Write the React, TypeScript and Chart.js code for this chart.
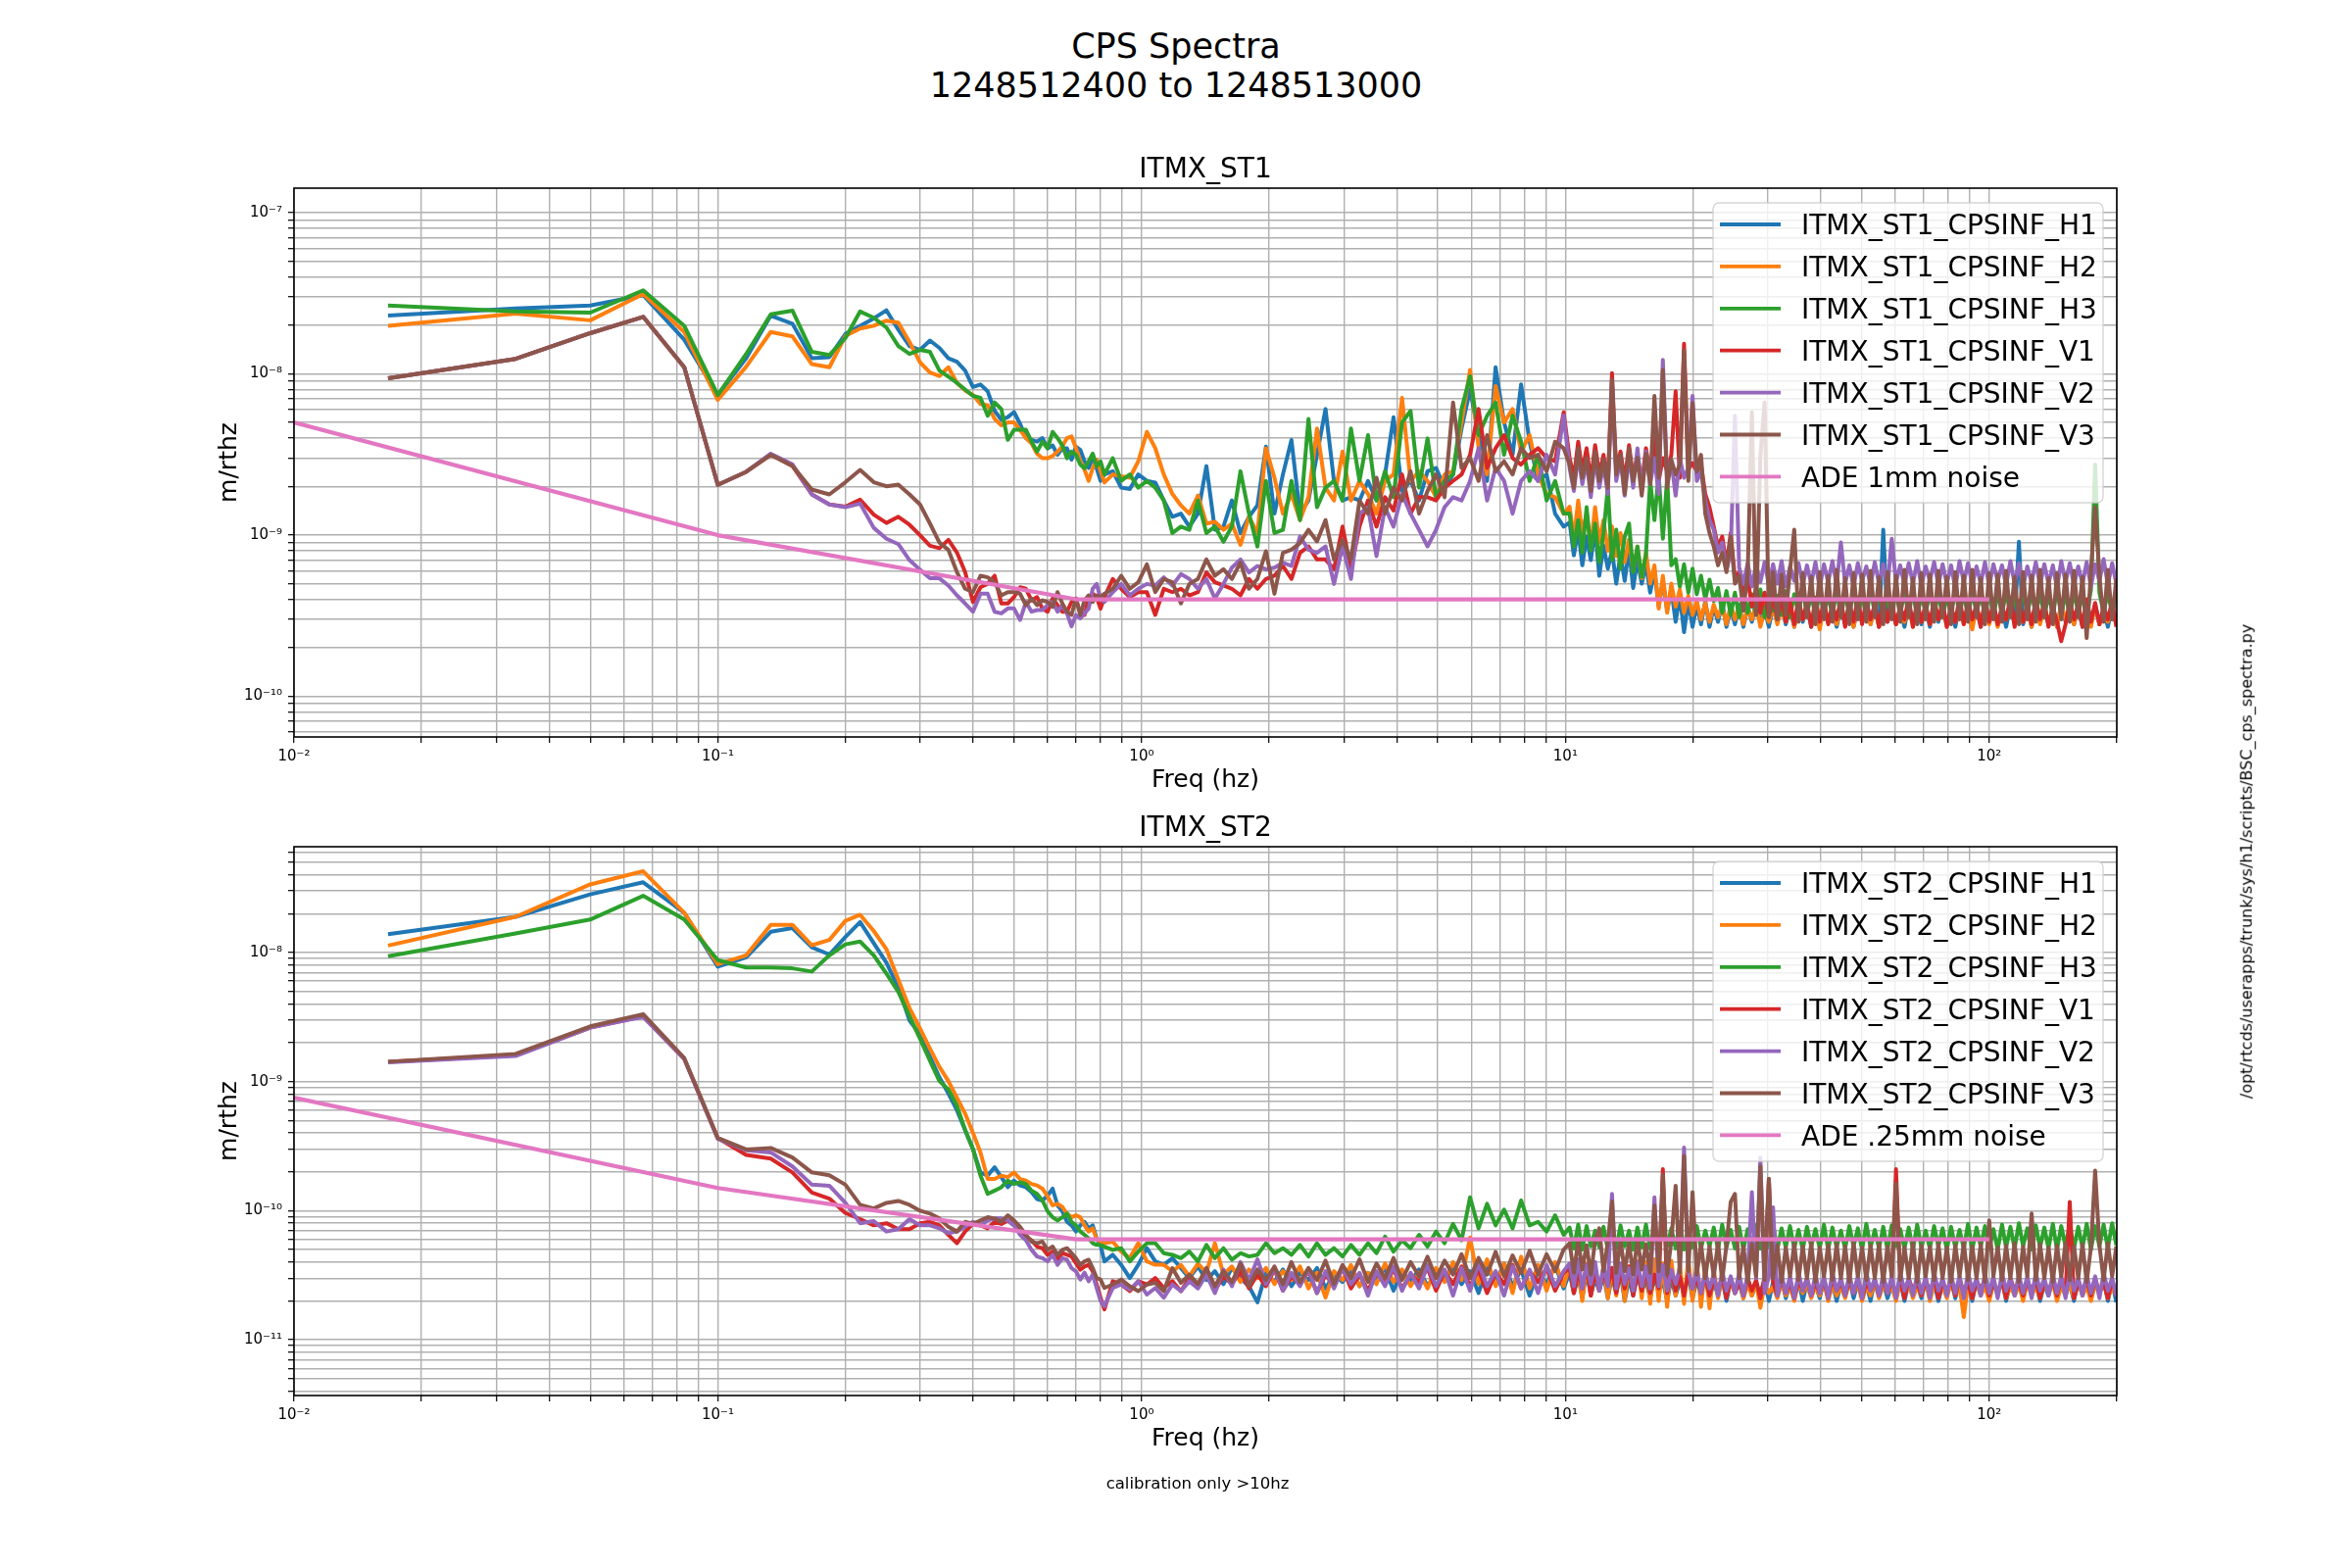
import React, { useEffect, useRef } from 'react';
import { Chart, registerables } from 'chart.js';
Chart.register(...registerables);

const FONT = "'DejaVu Sans', sans-serif";

// ---------- frequency grid (Hz) ----------
const FREQ_BINS = [
  0.01667, 0.03333, 0.05, 0.06667, 0.08333, 0.1, 0.11667, 0.13333, 0.15, 0.16667,
  0.18333, 0.2, 0.21667, 0.23333, 0.25, 0.26667, 0.28333, 0.3, 0.31667, 0.33333,
  0.35, 0.36667, 0.38333, 0.4, 0.41667, 0.43333, 0.45, 0.46667, 0.48333, 0.5,
  0.51667, 0.53333, 0.55, 0.56667, 0.58333, 0.6, 0.61667, 0.63333, 0.65, 0.66667,
  0.68333, 0.7, 0.71667, 0.73333, 0.75, 0.76667, 0.78333, 0.8,
];
const FREQ_MID = [
  0.817, 0.855, 0.895, 0.938, 0.982, 1.029, 1.077, 1.128, 1.182, 1.238,
  1.296, 1.358, 1.422, 1.489, 1.56, 1.633, 1.711, 1.792, 1.876, 1.965,
  2.058, 2.155, 2.257, 2.364, 2.476, 2.593, 2.716, 2.844, 2.979, 3.119,
  3.267, 3.421, 3.583, 3.753, 3.93, 4.116, 4.311, 4.515, 4.728, 4.952,
  5.186, 5.431, 5.688, 5.957, 6.239, 6.534, 6.843, 7.166, 7.505, 7.86,
  8.232, 8.621, 9.029, 9.456, 9.903,
];
const FREQ_DENSE = [
  10.23, 10.47, 10.72, 10.96, 11.22, 11.48, 11.75, 12.02, 12.3, 12.59,
  12.88, 13.18, 13.49, 13.8, 14.13, 14.45, 14.79, 15.14, 15.49, 15.85,
  16.22, 16.6, 16.98, 17.38, 17.78, 18.2, 18.62, 19.05, 19.5, 19.95,
  20.42, 20.89, 21.38, 21.88, 22.39, 22.91, 23.44, 23.99, 24.55, 25.12,
  25.7, 26.3, 26.92, 27.54, 28.18, 28.84, 29.51, 30.2, 30.9, 31.62,
  32.36, 33.11, 33.88, 34.67, 35.48, 36.31, 37.15, 38.02, 38.9, 39.81,
  40.74, 41.69, 42.66, 43.65, 44.67, 45.71, 46.77, 47.86, 48.98, 50.12,
  51.29, 52.48, 53.7, 54.95, 56.23, 57.54, 58.88, 60.26, 61.66, 63.1,
  64.57, 66.07, 67.61, 69.18, 70.79, 72.44, 74.13, 75.86, 77.62, 79.43,
  81.28, 83.18, 85.11, 87.1, 89.13, 91.2, 93.33, 95.5, 97.72, 100.0,
  102.3, 104.7, 107.2, 109.6, 112.2, 114.8, 117.5, 120.2, 123.0, 125.9,
  128.8, 131.8, 134.9, 138.0, 141.3, 144.5, 147.9, 151.4, 154.9, 158.5,
  162.2, 166.0, 169.8, 173.8, 177.8, 182.0, 186.2, 190.5, 195.0, 199.5,
];
const FREQ = [...FREQ_BINS, ...FREQ_MID, ...FREQ_DENSE];

// ---------- ITMX_ST1 (values in units of 1e-10 m/rthz) ----------
const ST1_UNIT = 1e-10;
const ST1_H1 = [
  230, 255, 266, 308, 163, 74, 125, 230, 205, 125, 127, 177, 199, 221, 248, 188, 149, 141, 161, 145, 125, 119, 105, 83,
  86, 78, 59, 52, 54, 58, 49, 40, 39, 38, 40, 34.6, 36, 31.5, 34.6, 34.6, 29.4, 35.4, 33.8, 28.7, 26.1, 30, 26, 21.7,
  23.8, 24.9, 19.7, 19.3, 23.8, 21.7, 21.2, 16.4, 13.0, 13.6, 11.3, 13.6, 26.8, 10.8, 11.3, 16.4, 10.3, 13.0, 15.3, 35.4,
  13.6, 23.8, 38.9, 13.6, 16.4, 31.5, 60.6, 21.7, 16.4, 17.2, 16.4, 21.7, 16.4, 23.8, 53.9, 18.8, 21.7, 16.4, 24.9, 26.1,
  19.7, 23.8, 45.8, 80, 41.7, 21.7, 110, 50, 31.5, 86, 38, 21.7, 23.8, 13.6, 11.3,
  12.0, 7.5, 10.8, 6.5, 9.8, 7.0, 11.0, 5.6, 8.6, 6.2,
  8.0, 5.0, 7.6, 5.2, 8.2, 4.7, 7.0, 5.0, 6.6, 4.4,
  6.0, 3.6, 5.2, 3.4, 4.6, 2.9, 4.2, 2.5, 3.9, 2.7,
  3.7, 2.8, 3.9, 2.7, 3.6, 2.9, 3.8, 2.7, 3.5, 2.8,
  3.7, 2.7, 3.6, 2.9, 3.8, 2.8, 3.5, 2.7, 3.6, 2.9,
  3.7, 2.8, 3.5, 2.7, 3.8, 2.9, 3.6, 2.7, 3.5, 2.8,
  3.7, 2.9, 3.6, 2.7, 3.5, 2.8, 3.8, 2.7, 3.6, 2.9,
  3.5, 2.8, 3.7, 2.7, 10.8, 2.9, 3.6, 2.8, 3.5, 2.7,
  3.7, 2.9, 3.6, 2.8, 3.5, 2.7, 3.8, 2.9, 3.6, 2.8,
  3.5, 2.7, 3.7, 2.9, 3.6, 2.8, 3.5, 2.7, 3.8, 2.9,
  3.6, 2.8, 3.5, 2.7, 3.7, 2.9, 9.1, 2.8, 3.5, 2.7,
  3.8, 2.9, 3.6, 2.8, 3.5, 2.7, 3.7, 2.9, 3.6, 2.8,
  3.5, 2.7, 3.8, 2.9, 3.6, 2.8, 3.5, 2.7, 3.6, 2.8,
];
const ST1_H2 = [
  199, 237, 215, 313, 182, 69, 111, 182, 171, 115, 110, 172, 191, 199, 214, 208, 158, 118, 102, 97, 110, 88, 79, 74,
  65, 64, 52.6, 48, 50, 50, 45, 40, 37, 32, 30, 30, 31, 33, 35.5, 40, 41, 34.6, 28.7, 25.5, 21.7, 26, 29.4, 24.9,
  21.2, 23.8, 23.2, 22.7, 28.7, 43.7, 34.6, 23.8, 18, 15.3, 13.6, 17.6, 11.8, 12.1, 10.8, 11.8, 8.7, 13, 10.3, 34.6,
  22.7, 13.6, 18, 12.4, 17.2, 45.8, 19.7, 16.4, 33, 16.4, 21.7, 18, 13.6, 21.7, 23.8, 71, 21.7, 24.9, 21.7, 17.2,
  23.8, 24.9, 50, 106, 34.6, 23.8, 84, 50, 60.6, 33, 41.7, 23.8, 18, 17.2, 13.6,
  15.0, 9.5, 16.4, 10.3, 13.6, 8.5, 14.9, 9.0, 12.4, 8.0,
  11.3, 7.4, 10.3, 6.8, 9.4, 6.0, 8.5, 5.4, 7.8, 5.0,
  6.5, 3.5, 5.6, 3.3, 5.0, 3.6, 4.6, 3.3, 4.2, 3.2,
  3.9, 3.0, 3.8, 2.9, 3.7, 3.1, 3.6, 2.8, 3.7, 3.0,
  3.6, 2.8, 3.5, 3.0, 3.7, 2.7, 3.4, 2.9, 3.6, 2.8,
  3.5, 2.9, 3.7, 2.7, 3.4, 3.0, 3.6, 2.8, 3.5, 2.6,
  3.7, 2.9, 3.4, 2.8, 3.6, 3.0, 3.5, 2.7, 3.7, 2.9,
  3.4, 2.8, 3.6, 2.7, 3.5, 3.0, 3.7, 2.8, 3.4, 2.9,
  3.6, 2.7, 3.5, 2.9, 3.7, 2.8, 3.4, 3.0, 3.6, 2.7,
  3.5, 2.9, 3.7, 2.8, 3.4, 2.6, 3.6, 2.9, 3.5, 2.8,
  3.7, 2.7, 3.4, 3.0, 3.6, 2.8, 3.5, 2.9, 3.7, 2.7,
  3.4, 2.8, 3.6, 2.9, 3.5, 2.7, 3.7, 3.0, 3.4, 2.8,
  3.6, 2.9, 3.5, 2.7, 3.7, 2.8, 3.4, 2.9, 3.6, 2.8,
];
const ST1_H3 = [
  266, 244, 240, 330, 199, 74, 133, 234, 247, 137, 131, 167, 244, 223, 194, 149, 133, 141, 137, 105, 96, 88, 80, 73,
  71, 55, 66.5, 60.6, 39, 45, 45, 45, 38, 33, 38, 34.6, 43.7, 40, 36, 30, 33, 31.5, 27.4, 26, 28.7, 32, 26.8, 28.7,
  23.8, 30, 21.7, 23.8, 19.7, 21.7, 19.7, 16.4, 10.3, 11.3, 10.8, 16.4, 10.3, 11.3, 9.1, 11.3, 24.9, 13.6, 8.5, 21.7,
  10.3, 10.8, 21.7, 12.4, 52.6, 14.9, 19.7, 21.7, 16.4, 45.8, 21.7, 41.7, 16.4, 24.9, 17.2, 50, 59, 19.7, 39.8, 17.2,
  21.7, 23.8, 60.6, 96.6, 41.7, 55, 66.5, 31.5, 55, 38, 21.7, 31.5, 16.4, 21.7, 13.6,
  13.6, 8.5, 12.4, 7.8, 14.9, 8.0, 11.8, 6.8, 10.3, 19.7,
  7.0, 10.8, 6.2, 9.8, 11.8, 5.9, 8.5, 5.5, 7.6, 21.7,
  12.4, 23.8, 9.5, 22.7, 6.5, 7.1, 4.8, 6.6, 4.4, 6.2,
  4.3, 5.6, 4.0, 5.3, 3.9, 4.7, 3.3, 4.5, 3.2, 4.4,
  3.1, 4.5, 3.3, 4.3, 3.2, 4.6, 3.1, 4.4, 3.4, 4.2,
  3.2, 4.5, 3.1, 4.3, 3.3, 4.6, 3.2, 4.4, 3.1, 4.5,
  3.3, 4.2, 3.2, 4.6, 3.1, 4.4, 3.3, 4.5, 3.2, 4.3,
  3.1, 4.6, 3.3, 4.4, 3.2, 4.2, 3.1, 4.5, 3.3, 4.4,
  3.2, 4.6, 3.1, 4.3, 3.3, 4.5, 3.2, 4.4, 3.1, 4.2,
  3.3, 4.6, 3.2, 4.4, 3.1, 4.5, 3.3, 4.3, 3.2, 4.6,
  3.1, 4.4, 3.3, 4.5, 3.2, 4.2, 3.1, 4.6, 3.3, 4.4,
  3.2, 4.5, 3.1, 4.3, 3.3, 4.6, 3.2, 4.4, 3.1, 4.5,
  3.3, 4.2, 3.2, 4.6, 27.4, 4.4, 3.3, 4.5, 3.2, 4.3,
];
const ST1_V1 = [
  94, 124, 179, 226, 110, 20.5, 24.7, 31.5, 26.9, 17.9, 15.5, 15.0, 16.6, 13.4, 11.9, 13.0, 11.6, 10.0, 8.6, 8.3, 9.35, 7.8, 5.9, 3.85,
  4.75, 5.0, 5.6, 3.77, 3.77, 4.13, 4.75, 4.65, 3.94, 4.13, 3.5, 3.35, 4.04, 3.68, 3.35, 3.35, 3.85, 4.04, 3.27, 3.2, 4.04, 4.33, 4.13, 3.5,
  4.13, 5.35, 4.65, 4.13, 4.43, 4.43, 3.2, 4.65, 4.43, 4.65, 4.23, 4.43, 5.87, 5.1, 4.87, 4.65, 4.23, 5.35, 4.65, 5.35,
  5.6, 6.44, 5.35, 7.76, 8.52, 7.07, 7.07, 6.14, 11.3, 6.14, 11.3, 16.4, 11.3, 17.2, 14.2, 23.8, 13.6, 17.2, 17.2, 16.4,
  19.7, 21.7, 23.8, 31.5, 60.6, 26.1, 34.6, 41.7, 30.1, 27.4, 31.5, 34.6, 30.1, 28.7, 57.8,
  30.1, 22.7, 38, 24.9, 34.6, 21.7, 36.2, 23.8, 31.5, 20.7,
  101, 25.5, 33.0, 21.7, 36.2, 22.7, 31.5, 20.7, 34.6, 23.8,
  40, 21.7, 30, 24.9, 31.5, 78, 22.7, 154, 25.5, 28,
  24.9, 27.4, 18.0, 14.9, 11.3, 8.5, 9.8, 6.5, 10.3, 5.4,
  5.9, 4.2, 5.4, 3.6, 4.7, 3.3, 4.4, 3.1, 4.2, 3.0,
  4.1, 2.9, 3.9, 2.8, 4.0, 3.0, 3.8, 2.7, 4.1, 2.9,
  3.9, 2.8, 3.7, 3.0, 4.0, 2.7, 3.8, 2.9, 4.1, 2.8,
  3.9, 3.0, 3.7, 2.7, 4.0, 2.9, 3.8, 2.8, 3.6, 3.0,
  4.1, 2.7, 3.9, 2.9, 3.7, 2.8, 4.0, 3.0, 3.8, 2.7,
  3.6, 2.9, 4.1, 2.8, 3.9, 3.0, 3.7, 2.7, 4.0, 2.9,
  3.8, 2.8, 3.6, 3.0, 4.1, 2.7, 3.9, 2.9, 3.7, 2.8,
  4.0, 3.0, 3.8, 2.7, 3.6, 2.9, 2.2, 2.8, 3.9, 3.0,
  3.7, 2.7, 4.0, 2.9, 3.8, 2.8, 3.6, 3.0, 3.9, 2.7,
];
const ST1_V2 = [
  94, 124, 179, 226, 110, 20.5, 24.7, 32, 27.5, 17.9, 15.5, 14.9, 15.7, 11.1, 9.5, 8.8, 7.0, 6.1, 5.4, 5.4, 4.87, 4.23, 3.77, 3.35,
  4.33, 4.33, 3.35, 3.27, 3.51, 3.51, 2.98, 3.85, 3.35, 3.43, 3.43, 3.68, 3.85, 3.35, 3.68, 3.27, 2.72, 3.2, 3.05, 3.27, 3.51, 4.65, 4.98, 4.04,
  3.85, 4.43, 4.98, 4.23, 4.65, 4.98, 4.87, 5.47, 4.87, 5.73, 5.35, 4.65, 5.35, 4.04, 4.98, 6.29, 7.07, 5.87, 6.44, 6.14,
  6.29, 6.75, 6.44, 9.8, 8.13, 7.76, 8.52, 4.98, 8.52, 5.35, 13.6, 14.9, 7.41, 14.9, 11.3, 18, 13.6, 10.8, 8.52, 10.8,
  14.9, 17.2, 16.4, 21.7, 34.6, 16.4, 26.1, 21.7, 13.6, 21.7, 24.9, 21.7, 31.5, 23.8, 55.2,
  26.1, 18.8, 31.5, 20.7, 28.7, 17.2, 30.1, 19.7, 27.4, 18.0,
  88, 21.7, 29.4, 17.6, 31.5, 19.7, 34.6, 18.8, 33.0, 20.7,
  30, 18.0, 122, 21.7, 28.7, 17.6, 30, 22.7, 26.1, 73,
  21.7, 24.9, 16.4, 12.4, 10.8, 7.8, 9.0, 6.0, 8.0, 55,
  6.3, 5.0, 6.7, 4.8, 6.5, 5.1, 6.8, 4.9, 6.6, 5.0,
  6.9, 4.8, 6.4, 5.2, 6.7, 4.9, 6.5, 5.0, 6.8, 4.7,
  6.6, 5.1, 6.9, 4.9, 9.0, 5.0, 6.5, 4.8, 6.7, 5.2,
  6.4, 4.9, 6.8, 5.0, 6.6, 4.7, 9.5, 5.1, 6.5, 4.9,
  6.7, 5.0, 6.9, 4.8, 6.4, 5.2, 6.8, 4.9, 6.6, 5.0,
  6.5, 4.7, 6.9, 5.1, 6.7, 4.9, 6.4, 5.0, 6.8, 4.8,
  6.6, 5.2, 6.5, 4.9, 6.9, 5.0, 6.7, 4.8, 6.4, 5.1,
  6.8, 4.9, 6.6, 5.0, 6.5, 4.7, 6.9, 5.1, 6.7, 4.9,
  6.4, 5.0, 6.8, 4.8, 6.6, 5.2, 7.1, 4.9, 6.7, 5.0,
];
const ST1_V3 = [
  94, 124, 179, 226, 110, 20.5, 24.7, 31.5, 26.9, 19.2, 17.9, 21.3, 25.4, 21.3, 20.1, 20.6, 17.9, 15.5, 11.8, 9.0, 8.1, 5.9, 4.65, 4.43,
  5.6, 5.47, 5.1, 4.23, 4.43, 4.43, 4.33, 3.68, 4.04, 3.68, 3.94, 3.85, 3.59, 4.43, 3.77, 3.35, 3.2, 4.04, 3.2, 3.94, 4.23, 3.85, 4.23, 4.13,
  4.33, 4.65, 5.6, 4.65, 5.1, 6.59, 4.43, 5.35, 5.1, 3.77, 4.98, 5.35, 7.07, 5.6, 6.14, 5.35, 6.75, 4.65, 5.35, 7.95,
  4.33, 7.76, 8.13, 8.93, 10.8, 9.14, 12.4, 7.07, 9.35, 7.07, 16.4, 13.6, 22.7, 13.6, 19.7, 16.4, 24.9, 13.6, 18.8, 23.8,
  17.2, 66.5, 26.1, 30.1, 21.7, 41.7, 24.9, 28.7, 23.8, 34.6, 30.1, 31.5, 24.9, 38, 34.6,
  27.4, 19.7, 34.6, 22.7, 30.1, 18.8, 33.0, 21.7, 29.4, 19.7,
  92, 23.8, 31.5, 18.0, 34.6, 21.7, 30.1, 17.6, 32.0, 20.7,
  73, 22.7, 106, 19.7, 29.4, 23.8, 27.4, 140, 21.7, 66,
  24.9, 31.5, 13.6, 10.3, 8.5, 6.5, 7.8, 5.9, 9.8, 5.0,
  5.6, 3.4, 5.8, 57.8, 3.2, 30.8, 66.5, 3.1, 5.9, 3.0,
  5.7, 3.2, 6.0, 10.8, 2.9, 5.8, 3.1, 5.5, 2.8, 5.9,
  3.0, 5.6, 2.9, 6.1, 3.1, 5.4, 2.8, 5.8, 3.0, 5.7,
  2.9, 6.0, 3.1, 5.5, 2.8, 5.9, 3.0, 5.6, 2.9, 6.1,
  3.1, 5.4, 2.8, 5.8, 3.0, 5.7, 2.9, 6.0, 3.1, 5.5,
  2.8, 5.9, 3.0, 5.6, 2.9, 6.1, 3.1, 5.4, 2.8, 5.8,
  3.0, 5.7, 2.9, 6.0, 3.1, 5.5, 2.8, 5.9, 3.0, 5.6,
  2.9, 6.1, 3.1, 5.4, 2.8, 5.8, 3.0, 5.7, 2.9, 6.0,
  3.1, 5.5, 2.3, 5.9, 14.9, 5.6, 2.9, 6.1, 3.0, 5.4,
];

// ---------- ITMX_ST2 (values in units of 1e-11 m/rthz) ----------
const ST2_UNIT = 1e-11;
const ST2_H1 = [
  1385, 1890, 2820, 3500, 2030, 776, 917, 1447, 1545, 1099, 965, 1317, 1720, 1181, 834, 533, 298, 232, 156, 108, 81, 60, 42, 30,
  19.8, 18.7, 21.7, 18.2, 15.2, 17.1, 15.7, 15.2, 13.9, 12.3, 12.0, 13.1, 14.8, 11.0, 9.9, 8.2, 7.7, 6.9, 7.7, 8.2, 7.3, 7.7, 6.1, 5.4,
  4.05, 4.55, 3.81, 3.01, 3.81, 5.12, 4.05, 3.81, 4.29, 3.59, 3.01, 3.7, 2.9, 3.4, 2.7, 3.6, 3.0, 2.6, 1.95, 3.3,
  2.8, 3.5, 2.6, 3.3, 2.9, 3.6, 2.5, 3.2, 2.8, 3.5, 2.6, 3.3, 2.9, 3.6, 2.4, 3.4, 2.8, 3.5, 2.6, 3.3,
  2.9, 3.7, 2.7, 3.4, 2.3, 3.6, 2.8, 3.9, 2.6, 3.5, 2.2, 3.4, 2.7, 3.8, 2.5,
  3.3, 2.3, 3.1, 2.1, 3.4, 2.2, 3.0, 2.4, 3.2, 2.1,
  3.1, 2.3, 3.3, 2.0, 3.0, 2.2, 3.2, 2.4, 2.9, 2.1,
  3.1, 2.3, 2.9, 2.0, 3.0, 2.2, 2.8, 2.4, 3.1, 2.1,
  2.9, 2.3, 3.0, 2.1, 2.8, 2.2, 3.0, 2.0, 2.9, 2.3,
  2.8, 2.1, 3.0, 2.2, 2.7, 2.3, 2.9, 2.0, 2.8, 2.2,
  3.0, 2.1, 2.7, 2.3, 2.9, 2.0, 2.8, 2.2, 2.7, 2.1,
  2.9, 2.3, 2.8, 2.0, 2.7, 2.2, 3.0, 2.1, 2.8, 2.3,
  2.7, 2.0, 2.9, 2.2, 2.8, 2.1, 2.7, 2.3, 2.9, 2.0,
  2.8, 2.2, 2.7, 2.1, 2.9, 2.3, 2.8, 2.0, 2.7, 2.2,
  2.9, 2.1, 2.8, 2.3, 2.7, 2.0, 2.9, 2.2, 2.8, 2.1,
  2.7, 2.3, 2.9, 2.0, 2.8, 2.2, 2.7, 2.1, 2.9, 2.3,
  2.8, 2.0, 2.7, 2.2, 2.9, 2.1, 2.8, 2.3, 2.7, 2.0,
  2.9, 2.2, 2.8, 2.1, 2.7, 2.3, 2.9, 2.0, 2.8, 1.95,
];
const ST2_H2 = [
  1131, 1890, 3370, 4260, 2030, 811, 951, 1640, 1640, 1139, 1252, 1760, 1960, 1468, 1060, 616, 371, 258, 180, 130, 101, 75, 56.5, 40,
  28.2, 17.6, 17.6, 18.7, 18.2, 19.8, 17.6, 17.1, 16.1, 15.7, 14.8, 12.9, 11.0, 11.3, 10.7, 9.5, 8.9, 9.2, 8.9, 7.7, 6.9, 7.3, 6.0, 5.76,
  5.6, 5.76, 4.82, 4.29, 5.6, 4.05, 3.81, 3.81, 3.39, 3.8, 3.1, 3.9, 3.3, 5.6, 3.2, 3.7, 2.8, 3.5, 3.0, 3.6,
  2.7, 3.4, 2.9, 3.7, 2.5, 3.3, 2.12, 3.4, 2.9, 3.8, 2.6, 3.3, 2.7, 3.9, 2.8, 3.5, 2.6, 3.3, 2.5, 3.6,
  2.8, 4.0, 2.9, 6.2, 2.7, 4.2, 2.6, 3.9, 2.3, 4.4, 2.5, 3.8, 2.4, 4.0, 2.6,
  3.8, 2.3, 3.6, 2.0, 3.9, 2.2, 3.5, 2.4, 3.7, 2.1,
  3.6, 2.2, 3.9, 2.0, 3.7, 2.3, 4.1, 2.1, 4.0, 1.9,
  4.2, 2.0, 3.9, 1.8, 4.1, 2.2, 3.8, 1.9, 4.3, 2.0,
  4.0, 1.8, 3.7, 1.75, 3.5, 2.1, 3.0, 2.2, 2.8, 2.3,
  2.9, 2.1, 2.7, 2.2, 2.8, 1.77, 2.7, 2.3, 2.6, 2.1,
  2.8, 2.2, 2.6, 2.0, 2.8, 2.3, 2.7, 2.1, 2.6, 2.2,
  2.8, 2.0, 2.7, 2.2, 2.6, 2.1, 2.8, 2.3, 2.7, 2.0,
  2.6, 2.2, 2.8, 2.1, 2.7, 2.3, 2.6, 2.0, 2.8, 2.2,
  2.7, 2.1, 2.6, 2.2, 2.8, 2.0, 2.7, 2.3, 2.6, 2.1,
  2.8, 2.2, 2.6, 1.5, 2.7, 2.1, 2.8, 2.2, 2.6, 2.0,
  2.7, 2.3, 2.8, 2.1, 2.6, 2.2, 2.7, 2.0, 2.8, 2.2,
  2.6, 2.1, 2.7, 2.3, 2.8, 2.0, 2.6, 2.2, 2.7, 2.1,
  2.8, 2.2, 2.6, 2.0, 2.7, 2.3, 2.8, 2.1, 2.6, 2.2,
];
const ST2_H3 = [
  937, 1405, 1800, 2750, 1800, 872, 765, 765, 754, 712, 951, 1156, 1216, 951, 686, 495, 321, 215, 145, 101, 87, 65, 42.3, 30,
  18.7, 13.5, 14.3, 15.2, 17.1, 16.1, 16.6, 16.1, 14.3, 13.5, 12.0, 9.9, 8.9, 8.4, 8.9, 9.5, 8.2, 7.7, 6.9, 6.5, 6.1, 5.6, 5.43, 5.43,
  5.27, 4.97, 5.12, 4.05, 4.82, 5.6, 5.6, 4.69, 4.55, 4.29, 4.82, 4.05, 5.43, 4.29, 5.12, 4.17, 4.69, 4.42, 4.55, 5.6,
  4.69, 5.12, 4.55, 5.43, 4.42, 5.6, 4.55, 5.12, 4.42, 5.43, 4.55, 5.6, 4.69, 6.3, 4.82, 5.9, 5.12, 6.5, 5.27, 6.9,
  5.6, 7.9, 5.9, 12.7, 7.3, 11.3, 7.7, 10.2, 7.3, 12.0, 7.7, 8.2, 6.9, 9.2, 6.5,
  7.4, 5.1, 7.8, 5.0, 7.6, 5.3, 7.0, 5.2, 7.5, 5.0,
  7.2, 5.1, 7.7, 5.3, 7.0, 5.0, 7.4, 5.2, 7.8, 5.1,
  7.1, 5.0, 7.5, 5.3, 7.3, 5.1, 8.2, 5.0, 7.2, 5.2,
  7.6, 5.1, 7.0, 5.3, 7.4, 5.0, 7.8, 5.2, 7.1, 5.1,
  7.5, 5.0, 7.2, 5.3, 7.7, 5.1, 7.0, 5.2, 7.9, 5.0,
  7.3, 5.2, 7.6, 5.1, 7.1, 5.0, 7.5, 5.3, 7.2, 5.1,
  7.8, 5.0, 7.4, 5.2, 7.0, 5.1, 7.6, 5.3, 7.3, 5.0,
  7.9, 5.2, 7.1, 5.1, 7.5, 5.0, 7.7, 5.3, 7.2, 5.1,
  7.4, 5.0, 7.8, 5.2, 7.0, 5.1, 7.6, 5.3, 7.3, 5.0,
  7.5, 5.2, 7.1, 5.1, 7.9, 5.0, 7.4, 5.3, 7.6, 5.1,
  7.2, 5.0, 7.8, 5.2, 7.5, 5.1, 8.0, 5.3, 7.3, 5.0,
  7.7, 5.2, 7.4, 5.1, 7.9, 5.0, 7.6, 5.3, 7.8, 5.1,
  7.5, 5.2, 7.9, 5.0, 7.6, 5.3, 7.8, 5.1, 8.0, 5.4,
];
const ST2_V1 = [
  142, 160, 262, 320, 150, 36.6, 27, 25.3, 19.8, 13.8, 12.4, 9.6, 8.6, 7.7, 8.0, 7.2, 7.2, 8.0, 8.2, 7.7, 6.5, 5.6, 6.9, 7.9,
  7.7, 7.3, 8.2, 7.9, 8.4, 7.7, 6.9, 6.3, 5.9, 5.27, 5.12, 4.55, 4.82, 4.17, 4.69, 4.55, 4.42, 3.92, 3.49, 3.7, 3.81, 3.39, 2.68, 2.12,
  1.72, 2.84, 2.68, 2.38, 2.84, 2.68, 3.01, 2.52, 2.84, 2.38, 3.01, 2.6, 3.3, 2.4, 3.1, 2.7, 3.4, 2.5, 3.2, 2.6,
  3.5, 2.4, 3.1, 2.7, 3.4, 2.3, 3.2, 2.6, 3.6, 2.5, 3.2, 2.4, 3.3, 2.7, 3.5, 2.5, 3.2, 2.8, 3.6, 2.4,
  3.4, 2.7, 3.7, 2.6, 3.5, 2.3, 3.3, 2.7, 3.8, 2.5, 3.4, 2.8, 3.6, 2.4, 3.3,
  3.6, 2.3, 3.4, 2.5, 3.8, 2.2, 3.5, 2.4, 3.3, 2.6,
  3.6, 2.3, 3.4, 2.5, 3.7, 2.2, 3.3, 2.4, 3.5, 2.3,
  3.2, 2.5, 21, 2.3, 3.4, 2.4, 3.1, 2.2, 3.3, 2.5,
  3.0, 2.3, 3.2, 2.2, 2.9, 2.4, 3.1, 2.1, 3.0, 2.3,
  2.8, 2.2, 3.0, 2.4, 2.9, 2.1, 3.1, 17.6, 2.8, 2.2,
  3.0, 2.3, 2.8, 2.1, 2.9, 2.4, 3.0, 2.2, 2.8, 2.3,
  2.9, 2.1, 3.0, 2.4, 2.8, 2.2, 2.9, 2.3, 3.0, 2.1,
  2.8, 2.4, 2.9, 2.2, 3.0, 2.3, 2.8, 21, 2.9, 2.1,
  3.0, 2.4, 2.8, 2.2, 2.9, 2.3, 3.0, 2.1, 2.8, 2.4,
  2.9, 2.2, 3.0, 2.3, 2.8, 2.1, 2.9, 2.4, 3.0, 2.2,
  2.8, 2.3, 2.9, 2.1, 3.0, 2.4, 2.8, 2.2, 2.9, 2.3,
  3.0, 2.1, 2.8, 2.4, 2.9, 2.2, 3.0, 2.3, 11.7, 2.1,
  2.8, 2.4, 2.9, 2.2, 3.0, 2.3, 2.8, 2.1, 2.9, 2.2,
];
const ST2_V2 = [
  141, 158, 262, 318, 150, 36, 29.4, 28.3, 22, 15.9, 15.6, 11.5, 8.0, 8.3, 6.9, 7.2, 8.6, 7.7, 7.7, 7.3, 6.7, 6.9, 7.5, 8.2,
  7.7, 8.4, 8.7, 8.7, 8.4, 7.7, 6.5, 5.9, 4.97, 4.42, 4.29, 4.05, 4.55, 3.81, 4.29, 4.17, 3.59, 3.39, 2.93, 3.31, 2.84, 3.2, 2.52, 2.0,
  1.82, 2.52, 2.68, 2.45, 2.84, 2.24, 2.52, 2.12, 2.68, 2.38, 2.84, 2.5, 3.2, 2.3, 3.5, 2.6, 4.0, 2.9, 4.2, 2.7,
  3.6, 2.4, 3.3, 2.6, 3.5, 2.3, 3.4, 2.5, 3.6, 2.7, 3.3, 2.2, 3.4, 2.6, 3.7, 2.4, 3.3, 2.5, 3.8, 2.6,
  3.5, 2.2, 3.6, 2.4, 3.9, 2.6, 3.4, 2.2, 3.7, 2.5, 3.5, 2.3, 3.8, 2.6, 3.4,
  3.9, 2.6, 4.2, 2.5, 3.8, 2.7, 4.0, 2.4, 3.7, 2.6,
  13.5, 2.5, 3.9, 2.7, 3.6, 2.4, 4.0, 2.6, 3.7, 2.5,
  12.7, 2.6, 3.8, 2.4, 3.5, 2.7, 3.6, 30.8, 3.4, 2.5,
  3.5, 2.3, 3.3, 2.5, 3.2, 2.2, 3.4, 2.4, 3.1, 2.3,
  3.3, 2.2, 3.2, 13.9, 3.0, 25.8, 2.3, 3.1, 10.6, 2.2,
  3.2, 2.3, 3.1, 2.1, 3.3, 2.4, 3.0, 2.2, 3.2, 2.3,
  3.1, 2.1, 3.3, 2.4, 3.0, 2.2, 3.2, 2.3, 3.1, 2.1,
  3.3, 2.4, 3.0, 2.2, 3.2, 2.3, 3.1, 2.1, 3.3, 2.4,
  3.0, 2.2, 3.2, 2.3, 3.1, 2.1, 3.3, 2.4, 3.0, 2.2,
  3.2, 2.3, 3.1, 2.1, 3.3, 2.4, 3.0, 2.2, 3.2, 2.3,
  3.1, 2.1, 3.3, 2.4, 3.0, 2.2, 3.2, 2.3, 3.1, 2.1,
  3.3, 2.4, 3.0, 2.2, 3.2, 2.3, 3.1, 2.1, 3.3, 2.4,
  3.0, 2.2, 3.2, 2.3, 3.1, 2.1, 3.3, 2.4, 3.0, 2.2,
];
const ST2_V3 = [
  142.6, 164, 268, 333, 152, 36.6, 29.8, 30.6, 25.8, 19.8, 18.8, 15.9, 11.1, 10.4, 11.5, 11.9, 11.1, 10.0, 9.5, 8.7, 7.5, 6.9, 8.2, 7.9,
  8.4, 8.9, 8.7, 8.2, 9.2, 8.4, 7.5, 6.5, 5.76, 5.6, 5.76, 4.97, 5.27, 4.55, 4.97, 5.12, 4.69, 4.29, 3.81, 4.05, 4.17, 3.59, 3.01, 2.93,
  2.52, 2.68, 2.93, 2.6, 2.38, 2.68, 2.76, 2.38, 3.59, 2.76, 3.2, 2.7, 3.6, 2.6, 3.4, 2.8, 3.9, 2.6, 3.5, 2.9,
  3.7, 2.7, 4.0, 2.8, 3.6, 2.9, 4.1, 2.7, 3.8, 3.0, 4.2, 2.8, 3.9, 3.0, 4.3, 2.9, 4.0, 3.1, 4.4, 3.0,
  4.1, 3.2, 4.6, 3.0, 4.3, 3.2, 4.8, 3.1, 4.5, 3.3, 4.9, 3.2, 4.6, 3.4, 5.0,
  5.6, 3.3, 5.9, 3.5, 5.4, 3.2, 5.8, 7.3, 3.4, 5.7,
  11.8, 3.3, 5.9, 3.4, 5.6, 3.2, 6.0, 3.5, 5.5, 3.3,
  11.0, 3.4, 19.0, 3.2, 5.8, 15.6, 3.3, 26.5, 3.4, 13.9,
  3.2, 5.5, 3.0, 5.3, 3.1, 5.6, 2.9, 5.4, 11.7, 13.5,
  3.0, 5.3, 2.8, 5.5, 3.1, 22, 2.9, 17.6, 3.0, 5.4,
  2.8, 5.2, 3.1, 5.5, 2.9, 5.3, 3.0, 5.6, 2.8, 5.2,
  3.1, 5.4, 2.9, 5.5, 3.0, 5.3, 2.8, 5.6, 3.1, 5.2,
  2.9, 5.4, 3.0, 5.5, 2.8, 5.3, 3.1, 16.2, 2.9, 5.2,
  3.0, 5.6, 2.8, 5.4, 3.1, 5.3, 2.9, 5.5, 3.0, 5.2,
  2.8, 5.4, 3.1, 5.6, 2.9, 5.3, 3.0, 5.5, 2.8, 8.4,
  3.1, 5.2, 2.9, 5.4, 3.0, 5.6, 2.8, 5.3, 3.1, 9.5,
  2.9, 5.5, 3.0, 5.2, 2.8, 5.4, 3.1, 5.6, 2.9, 5.3,
  3.0, 5.5, 2.8, 5.2, 20.4, 5.4, 2.9, 5.6, 3.1, 5.3,
];

// ---------- ADE noise reference lines ----------
const ADE_FREQ = [0.01, 0.1, 0.7, 100];
const ADE_ST1 = [50, 10, 4, 4];   // units 1e-10
const ADE_ST2 = [75, 15, 6, 6];   // units 1e-11

// ---------- axes ----------
const X_RANGE = [0.01, 200];
const X_DECADES = [-2, -1, 0, 1, 2];
const ST1_Y_RANGE = [5.6e-11, 1.42e-7];
const ST1_Y_DECADES = [-11, -10, -9, -8, -7];
const ST2_Y_RANGE = [3.7e-12, 6.6e-8];
const ST2_Y_DECADES = [-12, -11, -10, -9, -8];

const COLORS = ['#1f77b4', '#ff7f0e', '#2ca02c', '#d62728', '#9467bd', '#8c564b', '#e377c2'];
const ST1_LABELS = ['ITMX_ST1_CPSINF_H1', 'ITMX_ST1_CPSINF_H2', 'ITMX_ST1_CPSINF_H3', 'ITMX_ST1_CPSINF_V1', 'ITMX_ST1_CPSINF_V2', 'ITMX_ST1_CPSINF_V3', 'ADE 1mm noise'];
const ST2_LABELS = ['ITMX_ST2_CPSINF_H1', 'ITMX_ST2_CPSINF_H2', 'ITMX_ST2_CPSINF_H3', 'ITMX_ST2_CPSINF_V1', 'ITMX_ST2_CPSINF_V2', 'ITMX_ST2_CPSINF_V3', 'ADE .25mm noise'];

const SUP: Record<string, string> = { '-': '\u207b', '0': '\u2070', '1': '\u00b9', '2': '\u00b2', '3': '\u00b3', '4': '\u2074', '5': '\u2075', '6': '\u2076', '7': '\u2077', '8': '\u2078', '9': '\u2079' };
const sup = (n: number) => String(n).split('').map((c) => SUP[c] || c).join('');

function tickValues(decades: number[], range: number[]) {
  const out: { value: number }[] = [];
  decades.forEach((e) => {
    for (let m = 1; m <= 9; m++) {
      const v = m * Math.pow(10, e);
      if (v >= range[0] * 0.9999 && v <= range[1] * 1.0001) out.push({ value: v });
    }
  });
  return out;
}
function decadeLabel(v: number) {
  const e = Math.round(Math.log10(v));
  if (Math.abs(v / Math.pow(10, e) - 1) < 1e-6) return '10' + sup(e);
  return '';
}

function legendPlugin(labels: string[]) {
  return {
    id: 'mplLegendFrame',
    afterDatasetsDraw(chart: any) {
      const { ctx, chartArea: a } = chart;
      ctx.save();
      ctx.strokeStyle = '#000';
      ctx.lineWidth = 1.6;
      ctx.strokeRect(a.left, a.top, a.right - a.left, a.bottom - a.top);
      const w = 398, h = 306;
      const x = a.right - 14 - w, y = a.top + 15;
      ctx.beginPath();
      ctx.roundRect(x, y, w, h, 6);
      ctx.fillStyle = 'rgba(255,255,255,0.8)';
      ctx.fill();
      ctx.strokeStyle = 'rgba(204,204,204,0.8)';
      ctx.lineWidth = 1.4;
      ctx.stroke();
      ctx.font = `28px ${FONT}`;
      ctx.textAlign = 'left';
      ctx.textBaseline = 'alphabetic';
      labels.forEach((lab, r) => {
        const cy = y + 22 + r * 42.9;
        ctx.beginPath();
        ctx.moveTo(x + 7, cy);
        ctx.lineTo(x + 69, cy);
        ctx.strokeStyle = COLORS[r];
        ctx.lineWidth = 3.8;
        ctx.lineCap = 'butt';
        ctx.stroke();
        ctx.fillStyle = '#000';
        ctx.fillText(lab, x + 90, cy + 10.2);
      });
      ctx.restore();
    },
  };
}

function makeConfig(opts: {
  title: string; labels: string[]; series: number[][]; unit: number; ade: number[];
  yRange: number[]; yDecades: number[]; chartTop: number; canvasH: number;
}) {
  const datasets: any[] = opts.series.map((vals, si) => ({
    label: opts.labels[si],
    data: FREQ.map((f, i) => ({ x: f, y: vals[i] * opts.unit })),
    borderColor: COLORS[si],
    borderWidth: 4,
    order: 7 - si,
  }));
  datasets.push({
    label: opts.labels[6],
    data: ADE_FREQ.map((f, i) => ({ x: f, y: opts.ade[i] * opts.unit })),
    borderColor: COLORS[6],
    borderWidth: 4.2,
    order: 0,
  });
  const xAxisH = 100;
  const chartBottom = opts.chartTop + 560;
  return {
    type: 'line',
    data: { datasets },
    options: {
      animation: false,
      responsive: false,
      maintainAspectRatio: false,
      events: [],
      layout: { padding: { top: opts.chartTop - 34.6, left: 0, right: 240, bottom: opts.canvasH - chartBottom - xAxisH } },
      elements: {
        point: { radius: 0, hoverRadius: 0 },
        line: { tension: 0, borderJoinStyle: 'round', borderCapStyle: 'butt', fill: false },
      },
      datasets: { line: { clip: 0 } },
      plugins: {
        legend: { display: false },
        tooltip: { enabled: false },
        title: {
          display: true, text: opts.title, color: '#000', fullSize: false,
          font: { family: FONT, size: 28, weight: 'normal', lineHeight: 1.2 },
          padding: { top: 0, bottom: 1 },
        },
      },
      scales: {
        x: {
          type: 'logarithmic', min: X_RANGE[0], max: X_RANGE[1],
          afterFit: (s: any) => { s.height = xAxisH; },
          afterBuildTicks: (s: any) => { s.ticks = tickValues(X_DECADES, X_RANGE); },
          grid: { color: '#b0b0b0', lineWidth: 1.4, drawTicks: true, tickLength: 6, tickColor: '#000', tickWidth: 1.2 },
          border: { display: false },
          ticks: { autoSkip: false, maxRotation: 0, padding: 5, color: '#000', font: { family: FONT, size: 15 }, callback: (v: any) => decadeLabel(Number(v)) },
          title: { display: true, text: 'Freq (hz)', color: '#000', font: { family: FONT, size: 25, lineHeight: 1.2 }, padding: { top: 0, bottom: 40.6 } },
        },
        y: {
          type: 'logarithmic', min: opts.yRange[0], max: opts.yRange[1],
          afterFit: (s: any) => { s.width = 300; },
          afterBuildTicks: (s: any) => { s.ticks = tickValues(opts.yDecades, opts.yRange); },
          grid: { color: '#b0b0b0', lineWidth: 1.4, drawTicks: true, tickLength: 6, tickColor: '#000', tickWidth: 1.2 },
          border: { display: false },
          ticks: { autoSkip: false, padding: 6, color: '#000', font: { family: FONT, size: 15 }, callback: (v: any) => decadeLabel(Number(v)) },
          title: { display: true, text: 'm/rthz', color: '#000', font: { family: FONT, size: 25, lineHeight: 1.2 }, padding: { top: 219.75, bottom: 0 } },
        },
      },
    },
    plugins: [legendPlugin(opts.labels)],
  } as any;
}

export default function App() {
  const topRef = useRef<HTMLCanvasElement>(null);
  const botRef = useRef<HTMLCanvasElement>(null);

  useEffect(() => {
    document.body.style.margin = '0';
    const c1 = new Chart(topRef.current as HTMLCanvasElement, makeConfig({
      title: 'ITMX_ST1', labels: ST1_LABELS,
      series: [ST1_H1, ST1_H2, ST1_H3, ST1_V1, ST1_V2, ST1_V3], unit: ST1_UNIT, ade: ADE_ST1,
      yRange: ST1_Y_RANGE, yDecades: ST1_Y_DECADES, chartTop: 192, canvasH: 860,
    }));
    const c2 = new Chart(botRef.current as HTMLCanvasElement, makeConfig({
      title: 'ITMX_ST2', labels: ST2_LABELS,
      series: [ST2_H1, ST2_H2, ST2_H3, ST2_V1, ST2_V2, ST2_V3], unit: ST2_UNIT, ade: ADE_ST2,
      yRange: ST2_Y_RANGE, yDecades: ST2_Y_DECADES, chartTop: 144, canvasH: 880,
    }));
    return () => { c1.destroy(); c2.destroy(); };
  }, []);

  return (
    <div style={{ position: 'absolute', left: 0, top: 0, width: 2400, height: 1600, background: '#fff', fontFamily: FONT, color: '#000', overflow: 'hidden' }}>
      <div style={{ position: 'absolute', left: 0, top: 27.2, width: 2400, textAlign: 'center', fontSize: 35, lineHeight: '40px' }}>
        CPS Spectra<br />1248512400 to 1248513000
      </div>
      <canvas ref={topRef} width={2400} height={860} style={{ position: 'absolute', left: 0, top: 0 }} />
      <canvas ref={botRef} width={2400} height={880} style={{ position: 'absolute', left: 0, top: 720 }} />
      <div style={{ position: 'absolute', left: 2292.8, top: 878.6, transform: 'translate(-50%, -50%) rotate(-90deg)', whiteSpace: 'nowrap', fontSize: 16, lineHeight: 1.164 }}>
        /opt/rtcds/userapps/trunk/sys/h1/scripts/BSC_cps_spectra.py
      </div>
      <div style={{ position: 'absolute', left: 1222, top: 1506, transform: 'translateX(-50%)', whiteSpace: 'nowrap', fontSize: 16.5, lineHeight: 1 }}>
        calibration only &gt;10hz
      </div>
    </div>
  );
}
